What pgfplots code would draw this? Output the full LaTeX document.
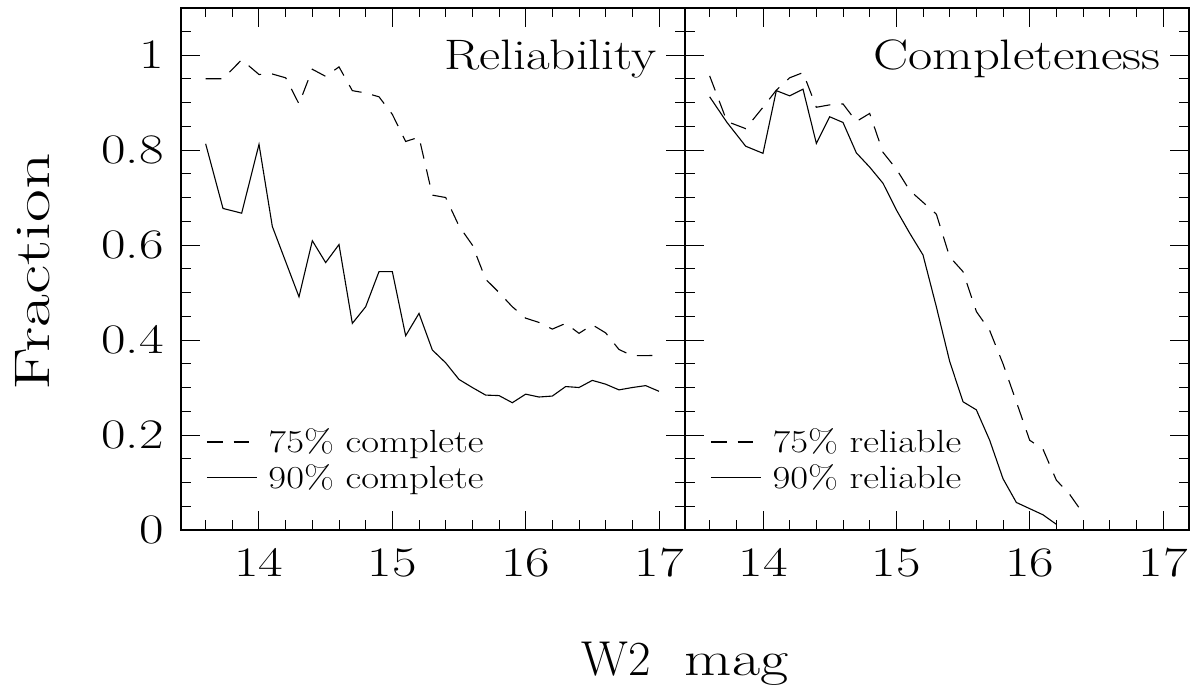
\documentclass[border=0pt]{standalone}
\usepackage{graphicx}
\usepackage{pgfplots}
\pgfplotsset{compat=1.18}
\newcommand\tl[1]{\scalebox{1.27}[1]{#1}}
\begin{document}
\begin{tikzpicture}
\useasboundingbox (-90.5pt,-81.5pt) rectangle (506.5pt,265pt);
\pgfplotsset{
 panel/.style={
  scale only axis, width=252pt, height=261.25pt,
  xmin=13.415, xmax=17.195, ymin=0, ymax=1.1,
  clip=false,
  xtick={14,15,16,17},
  xticklabels={\tl{14},\tl{15},\tl{16},\tl{17}},
  minor xtick={13.6,13.8,14.2,14.4,14.6,14.8,15.2,15.4,15.6,15.8,16.2,16.4,16.6,16.8},
  ytick={0,0.2,0.4,0.6,0.8,1},
  minor ytick={0.05,0.1,0.15,0.25,0.3,0.35,0.45,0.5,0.55,0.65,0.7,0.75,0.85,0.9,0.95,1.05},
  major tick length=9.6pt, minor tick length=4.8pt,
  every tick/.style={line width=0.5pt, black},
  axis line style={line width=1pt},
  tick label style={inner sep=0pt, font=\fontsize{21}{21}\selectfont},
  xticklabel shift=9pt, yticklabel shift=8.5pt,
  legend style={draw=none, fill=none, at={(rel axis cs:0,0)}, anchor=south west,
    xshift=12.5pt, yshift=19.2pt, inner sep=0pt, row sep=4.4pt, column sep=5.5pt,
    nodes={inner sep=0pt}, font=\fontsize{16}{16}\selectfont},
  legend cell align=left,
  legend image code/.code={\draw[##1] (0pt,0pt) -- (25pt,0pt);},
 },
 dsh/.style={black, line width=0.55pt, dash pattern=on 7.8pt off 5.5pt},
 sld/.style={black, line width=0.55pt},
}
\begin{axis}[panel, name=a1,
  yticklabels={\tl{0},\tl{0.2},\tl{0.4},\tl{0.6},\tl{0.8},\tl{1}}]
\addplot[dsh] table {
13.6 0.950
13.73 0.950
13.87 0.990
14.0 0.959
14.1 0.960
14.2 0.952
14.3 0.897
14.4 0.970
14.5 0.955
14.6 0.975
14.7 0.925
14.8 0.920
14.9 0.912
15.0 0.875
15.1 0.818
15.2 0.827
15.3 0.705
15.4 0.700
15.5 0.640
15.6 0.600
15.7 0.528
15.8 0.500
15.9 0.470
16.0 0.446
16.1 0.437
16.2 0.423
16.3 0.435
16.4 0.414
16.5 0.432
16.6 0.415
16.7 0.380
16.8 0.367
16.9 0.367
17.0 0.368
};
\addlegendentry{\scalebox{1.21}[1]{75\% complete}}
\addplot[sld] table {
13.6 0.813
13.73 0.677
13.87 0.667
14.0 0.812
14.1 0.639
14.2 0.565
14.3 0.491
14.4 0.609
14.5 0.563
14.6 0.601
14.7 0.435
14.8 0.470
14.9 0.544
15.0 0.544
15.1 0.409
15.2 0.456
15.3 0.379
15.4 0.352
15.5 0.317
15.6 0.300
15.7 0.284
15.8 0.283
15.9 0.268
16.0 0.286
16.1 0.280
16.2 0.282
16.3 0.302
16.4 0.300
16.5 0.315
16.6 0.307
16.7 0.295
16.8 0.300
16.9 0.304
17.0 0.292
};
\addlegendentry{\scalebox{1.21}[1]{90\% complete}}
\node[anchor=base east, inner sep=0pt, font=\fontsize{21.3}{22}\selectfont]
  at ([xshift=-14pt, yshift=-30.9pt]rel axis cs:1,1) {\scalebox{1.21}[1]{Reliability}};
\node[rotate=90, anchor=base, inner sep=0pt, font=\fontsize{25}{25}\selectfont]
  at ([xshift=-65.5pt, yshift=-1.5pt]rel axis cs:0,0.5) {\scalebox{1.43}[1]{Fraction}};
\end{axis}
\begin{axis}[panel, at={(252pt,0pt)}, anchor=south west, yticklabels={}]
\addplot[dsh] table {
13.6 0.956
13.73 0.860
13.87 0.845
14.0 0.890
14.1 0.926
14.2 0.952
14.3 0.963
14.4 0.890
14.5 0.895
14.6 0.897
14.7 0.860
14.8 0.877
14.9 0.795
15.0 0.760
15.1 0.715
15.2 0.690
15.3 0.665
15.4 0.575
15.5 0.544
15.6 0.460
15.7 0.420
15.8 0.350
15.9 0.270
16.0 0.189
16.1 0.170
16.2 0.105
16.3 0.075
16.4 0.035
};
\addlegendentry{\scalebox{1.21}[1]{75\% reliable}}
\addplot[sld] table {
13.6 0.912
13.73 0.858
13.87 0.808
14.0 0.793
14.1 0.925
14.2 0.914
14.3 0.928
14.4 0.814
14.5 0.870
14.6 0.858
14.7 0.794
14.8 0.764
14.9 0.730
15.0 0.674
15.1 0.625
15.2 0.579
15.3 0.470
15.4 0.355
15.5 0.270
15.6 0.253
15.7 0.189
15.8 0.108
15.9 0.058
16.0 0.045
16.1 0.032
16.2 0.012
};
\addlegendentry{\scalebox{1.21}[1]{90\% reliable}}
\node[anchor=base east, inner sep=0pt, font=\fontsize{21.3}{22}\selectfont]
  at ([xshift=-14pt, yshift=-30.9pt]rel axis cs:1,1) {\scalebox{1.236}[1]{Completeness}};
\node[anchor=base, inner sep=0pt, font=\fontsize{24.5}{25}\selectfont]
  at ([yshift=-72.5pt]rel axis cs:0,0) {W2\hspace{17pt}\scalebox{1.25}[1]{mag}};
\end{axis}
\end{tikzpicture}
\end{document}
